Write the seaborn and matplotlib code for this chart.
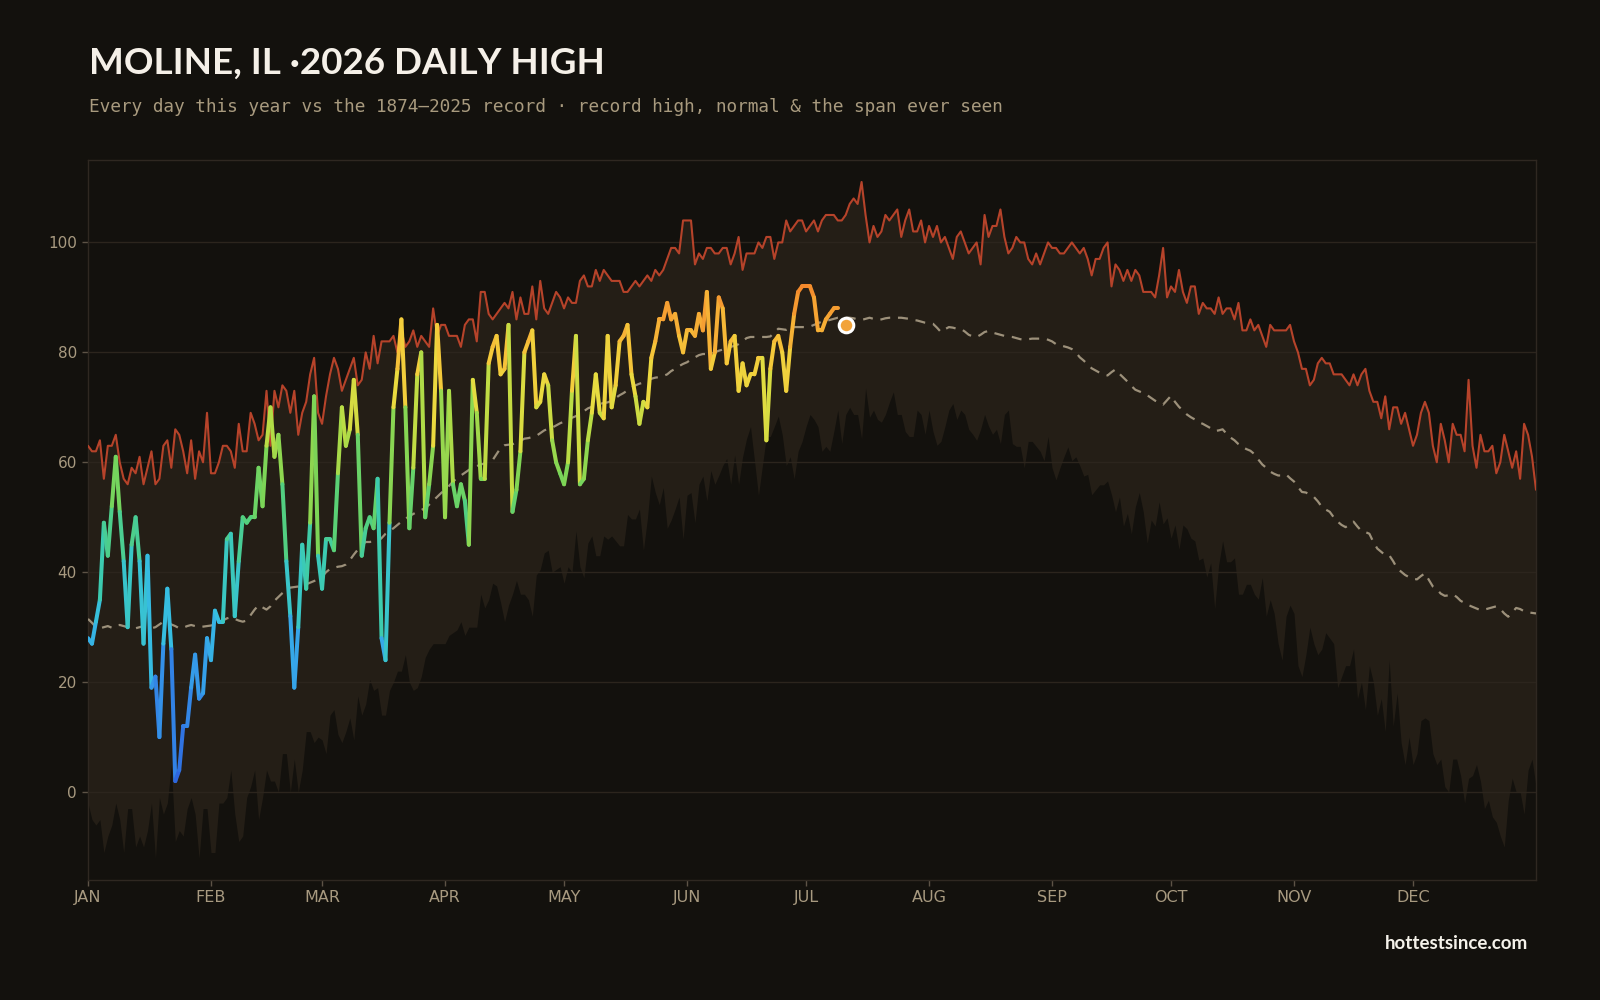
import numpy as np
import matplotlib
matplotlib.use("Agg")
import matplotlib.pyplot as plt
import seaborn as sns
from matplotlib.collections import LineCollection
from matplotlib.colors import LinearSegmentedColormap, Normalize

# ---------------- data (°F, day-of-year index 0..365) ----------------
record_high = [
    63, 62, 62, 64, 57, 63, 63, 65, 60, 57, 56, 59, 58, 61, 56, 59, 62, 56, 57, 63,
    64, 59, 66, 65, 62, 58, 64, 57, 62, 60, 69, 58, 58, 60, 63, 63, 62, 59, 67, 62,
    62, 69, 67, 64, 65, 73, 63, 73, 70, 74, 73, 69, 73, 65, 69, 71, 76, 79, 69,
    67, 72, 76, 79, 77, 73, 75, 77, 79, 74, 75, 80, 77, 83, 78, 82, 82, 82, 83, 80,
    84, 81, 82, 84, 81, 83, 82, 81, 88, 83, 85, 85, 83, 83, 83, 81, 85, 86, 86, 82,
    91, 91, 87, 86, 87, 88, 89, 88, 91, 86, 90, 87, 87, 92, 86, 93, 88, 87, 89, 91,
    90, 88, 90, 89, 89, 93, 94, 92, 92, 95, 93, 95, 94, 93, 93, 93, 91, 91, 92, 93,
    92, 93, 94, 93, 95, 94, 95, 97, 99, 99, 98, 104, 104, 104, 96, 98, 97, 99, 99, 98,
    98, 99, 99, 96, 98, 101, 95, 98, 98, 98, 100, 99, 101, 101, 97, 100, 100, 104, 102, 103,
    104,
    104, 102, 103, 104, 102, 104, 105, 105, 105, 104, 104, 105, 107, 108, 107, 111, 105, 100, 103, 101,
    102, 105, 104, 105, 106, 101, 104, 106, 102, 102, 104, 100, 103, 101, 103, 100, 101, 99, 97, 101,
    102, 100, 98, 99, 100, 96, 105, 101, 103, 103, 106, 101, 98, 99, 101, 100, 100, 97, 96, 98,
    96,
    98, 100, 99, 99, 98, 98, 99, 100, 99, 98, 99, 97, 94, 97, 97, 99, 100, 92, 96, 95,
    93, 95, 93, 95, 94, 91, 91, 91, 90, 94, 99, 90, 92, 91, 95, 91, 89, 92, 92, 87,
    89, 88, 88, 87, 90, 87, 88, 88, 86, 89, 84, 84, 86, 84, 85,
    83, 81, 85, 84, 84, 84, 84, 85, 82, 80, 77, 77, 74, 75, 78, 79, 78, 78, 76, 76,
    76, 75, 74, 76, 74, 76, 77, 73, 71, 71, 68, 72, 66, 70, 70, 67, 69, 66, 63, 65,
    69, 71, 69, 63, 60, 67, 64, 60, 67, 65, 65, 62, 75, 63, 59, 65, 62, 62, 63, 58,
    60, 65, 62, 59, 62, 57, 67, 65, 61, 55,
]

normal_high = [
    31.5, 30.8, 30.0, 29.8, 30.0, 30.2, 29.9, 30.3, 30.4, 30.2,
    30.0, 29.9, 29.8, 30.0, 30.2, 29.9, 29.8, 30.0, 30.5, 31.0,
    30.8, 30.5, 30.2, 29.8, 29.9, 30.2, 30.4, 30.2, 30.0, 30.1,
    30.2, 30.3, 30.5, 30.8, 31.2, 31.6, 31.8, 31.5, 31.2, 31.0,
    31.2, 32.2, 33.2, 34.0, 33.6, 33.2, 33.8, 34.8, 35.5, 36.2,
    36.8, 37.2, 37.3, 37.4, 37.6, 37.8, 38.1, 38.4, 38.7, 39.2,
    40.0, 40.6, 40.8, 41.0, 41.1, 41.4, 42.2, 43.2, 44.1, 45.0,
    45.5, 45.5, 45.6, 45.6, 46.2, 47.0, 47.5, 48.0, 48.6, 49.2,
    49.7, 50.2, 50.6, 51.0, 51.3, 51.7, 52.3, 53.0, 53.7, 54.4,
    55.0, 55.7, 56.5, 57.1, 57.6, 58.1, 58.6, 59.0, 59.3, 59.6,
    59.8, 60.1, 60.4, 61.5, 62.6, 63.1, 63.2, 63.3, 63.5, 63.9,
    64.3, 64.4, 64.6, 64.8, 65.3, 65.8, 66.1, 66.3, 66.7, 67.1,
    67.4, 67.8, 68.1, 68.4, 68.8, 69.3, 69.8, 70.1, 70.4, 70.6,
    70.8, 70.9, 71.2, 71.7, 72.2, 72.6, 73.1, 73.6, 74.0, 74.3,
    74.5, 74.8, 75.2, 75.4, 75.5, 75.7, 76.0, 76.6, 77.0, 77.5,
    77.9, 78.2, 78.7, 79.1, 79.5, 79.7, 79.7, 79.7, 80.0, 80.3,
    80.5, 80.8, 81.0, 81.2, 81.5, 82.0, 82.6, 82.8, 82.8, 82.8,
    82.8, 82.8, 82.9, 83.6, 84.3, 84.2, 84.1, 84.5, 84.6, 84.6,
    84.6, 84.6, 84.7, 85.0, 85.3, 85.6, 85.7, 85.9, 86.1, 86.3,
    86.3, 86.3, 86.3, 86.2, 86.0, 85.9, 86.1, 86.3, 86.1, 85.9,
    86.0, 86.2, 86.3, 86.3, 86.3, 86.3, 86.2, 86.1, 85.9, 85.8,
    85.6, 85.4, 85.3, 85.2, 84.5, 83.7, 84.2, 84.6, 84.5, 84.3,
    84.3, 83.8, 83.2, 82.9, 82.8, 83.2, 83.7, 83.9, 83.6, 83.4,
    83.2, 83.0, 82.9, 82.8, 82.6, 82.4, 82.3, 82.4, 82.5, 82.5,
    82.5, 82.5, 82.3, 82.0, 81.5, 81.3, 81.1, 80.9, 80.6, 80.0,
    79.1, 78.5, 77.8, 77.1, 76.7, 76.3, 76.0, 75.8, 76.4, 76.9,
    76.1, 75.4, 74.7, 73.9, 73.2, 72.9, 72.6, 72.2, 71.7, 71.2,
    70.9, 70.5, 71.3, 72.1, 71.0, 70.1, 69.4, 68.7, 68.2, 67.8,
    67.3, 67.0, 66.6, 66.2, 65.7, 65.8, 66.0, 65.2, 64.5, 64.0,
    63.3, 62.8, 62.4, 62.1, 61.5, 60.5, 59.6, 59.0, 58.3, 57.9,
    57.6, 57.6, 57.8, 57.1, 56.5, 55.5, 54.6, 54.5, 54.1, 53.7,
    52.9, 51.9, 51.4, 51.0, 50.0, 49.2, 48.6, 48.2, 48.7, 49.2,
    48.3, 47.5, 47.3, 47.0, 45.5, 44.3, 43.7, 43.1, 43.1, 42.0,
    40.7, 40.1, 39.5, 39.1, 38.8, 38.7, 39.3, 39.8, 38.6, 37.4,
    36.9, 36.1, 35.7, 35.8, 36.0, 35.5, 34.8, 34.4, 34.0, 33.7,
    33.4, 33.1, 33.2, 33.4, 33.6, 33.8, 33.3, 32.5, 31.9, 32.7,
    33.5, 33.3, 32.9, 32.7, 32.6, 32.5,
]

lowest_high = [
    -2, -5, -6, -5, -11, -8, -6, -2, -5, -11,
    -3, -3, -10, -8, -10, -7, -2, -12, -1, -4,
    -2, 5, -9, -7, -8, -3, -1, -4, -12, -3,
    -3, -11, -11, -2, -2, -1, 4, -4, -9, -8,
    -1, 1, 4, -5, -1, 4, 2, 2, 0, 7,
    7, 0, 6, 0, 4, 11, 11, 9, 10, 9.5,
    7, 14, 15, 10.5, 9, 11, 13.5, 9.5, 17.5, 14,
    16, 20.5, 18.5, 19, 14, 14, 18.5, 20, 22, 22,
    25, 20, 18.5, 19, 21, 24.5, 26, 27, 27, 27,
    27, 28.5, 29, 29.5, 31, 28.5, 30, 30, 30, 36,
    33.5, 35, 38, 37.5, 34.5, 31, 34, 36, 38.5, 36,
    36, 35, 32, 39.5, 40.5, 43.5, 44, 40, 40.5, 41,
    38, 41, 40, 47.5, 41, 39, 45.3, 46.6, 43, 43,
    46.6, 46, 46.6, 45.7, 44.8, 44.8, 50.5, 49.7, 49.7, 51.5,
    44, 49.7, 57.5, 54.5, 52.3, 55.4, 48, 49.5, 51.5, 53.7,
    46, 54, 54.5, 49, 56, 57.5, 53, 58.5, 56, 57.6,
    59.4, 60.7, 56, 61.3, 56, 61, 64.3, 66.5, 60.3, 54,
    59.4, 64.7, 64.7, 66.5, 68.4, 65, 59.4, 61, 57, 62,
    63.8, 66.5, 68.7, 67.8, 66.5, 62, 62.9, 62, 65.6, 69.5,
    63.4, 68.7, 70, 68.7, 68.7, 64.3, 73.5, 68.2, 69.5, 67.8,
    67.3, 68.7, 70.9, 72.8, 68.7, 68.7, 65.6, 64.7, 64.7, 69.5,
    68.7, 65.1, 69.5, 65.6, 63.1, 63.8, 66.5, 69.5, 70.7, 67.8,
    69.5, 68.7, 66, 65.1, 64, 66, 68.7, 66.6, 65.1, 66,
    63.4, 68.7, 69.5, 63.4, 62.9, 62.9, 59, 63.8, 63.8, 62.9,
    62, 60.3, 64.7, 59, 56.8, 59, 61, 62.8, 60.3, 61,
    59.4, 57.5, 57.8, 54.1, 55, 55.9, 55.9, 56.6, 54.1, 51,
    53.7, 48.4, 50.7, 47, 51.9, 54.5, 51, 45.3, 49.5, 48.4,
    52.8, 48.8, 49.9, 46.2, 48.6, 44.2, 48.6, 47.9, 46.2, 45.7,
    42.2, 42.6, 39.1, 41.7, 33.4, 41.3, 45.7, 41.9, 41.9, 42.6,
    36, 36, 37.8, 37.8, 36, 35.1,
    39, 32, 35, 32.5, 27, 24, 32, 34, 32.5, 23,
    21, 25, 30, 27, 25, 26, 29, 28, 27, 19,
    21, 23, 23, 26, 17, 20, 15, 23, 20, 14,
    17, 11, 24, 12, 18, 9, 5, 10, 5, 7,
    13, 13.5, 13, 7, 5, 6, 1, 0, 6, 6,
    3, -2, 2.5, 3, 5, 2, -3, -1.5, -4.5, -5.5,
    -8, -10, -1.5, 2.5, 0, 0, -4, 4, 6, 1,
]

high_2026 = [
    28, 27, 31, 35, 49, 43, 52, 61, 51, 42,
    30, 45, 50, 42, 27, 43, 19, 21, 10, 27,
    37, 26, 2, 4, 12, 12, 19, 25, 17, 18,
    28, 24, 33, 31, 31, 46, 47, 32, 42, 50,
    49, 50, 50, 59, 52, 63, 70, 61, 65, 56,
    42, 32, 19, 30, 45, 37, 49, 72, 43, 37,
    46, 46, 44, 58, 70, 63, 66, 75, 65, 43,
    48, 50, 48, 57, 28, 24, 49, 70, 77, 86,
    70, 48, 59, 76, 80, 50, 56, 63, 85, 73,
    50, 73, 56, 52, 56, 53, 45, 75, 69, 57,
    57, 78, 81, 83, 76, 77, 85, 51, 55, 62,
    80, 82, 84, 70, 71, 76, 74, 64, 60, 58,
    56, 60, 73, 83, 56, 57, 64, 69, 76, 69,
    68, 83, 70, 74, 82, 83, 85, 76, 72, 67,
    71, 70, 79, 82, 86, 86, 89, 86, 87, 83,
    80, 84, 84, 83, 87, 84, 91, 77, 80, 90,
    88, 78, 82, 83, 73, 78, 74, 76, 76, 79,
    79, 64, 77, 82, 83, 80, 73, 81, 87, 91,
    92, 92, 92, 90, 84, 84, 86, 87, 88, 88,
    np.nan, 85,
]

month_starts = [0, 31, 59, 90, 120, 151, 181, 212, 243, 273, 304, 334]
month_labels = ["JAN", "FEB", "MAR", "APR", "MAY", "JUN",
                "JUL", "AUG", "SEP", "OCT", "NOV", "DEC"]
y_ticks = [0, 20, 40, 60, 80, 100]

title = "MOLINE, IL \u00b72026 DAILY HIGH"
subtitle = ("Every day this year vs the 1874\u20132025 record \u00b7 "
            "record high, normal & the span ever seen")
footer = "hottestsince.com"

# ---------------- style ----------------
BG = "#13110d"
BAND = "#241e16"
GRID = "#2c251d"
RED = "#b6432a"
NORM = "#9c907a"
TICK = "#a89a80"
SPINE = "#2f2821"

sns.set_theme(style="dark", rc={
    "axes.facecolor": BG, "figure.facecolor": BG,
    "axes.edgecolor": SPINE, "axes.grid": False,
    "xtick.color": "#5d5346", "ytick.color": "#5d5346",
    "xtick.labelcolor": TICK, "ytick.labelcolor": TICK,
})
plt.rcParams["font.family"] = ["DejaVu Sans"]

rh = np.array(record_high, dtype=float)
nh = np.array(normal_high, dtype=float)
lh = np.array(lowest_high, dtype=float)
h26 = np.array(high_2026, dtype=float)
days = np.arange(len(rh))
d26 = np.arange(len(h26))

fig = plt.figure(figsize=(16, 10), dpi=100)
ax = fig.add_axes([0.055, 0.12, 0.905, 0.72])
ax.set_facecolor(BG)

# span ever seen
ax.fill_between(days, lh, rh, color=BAND, linewidth=0, zorder=1)
for yv in y_ticks:
    ax.axhline(yv, color=GRID, lw=1.0, zorder=1.5)

sns.lineplot(x=days, y=rh, ax=ax, color=RED, lw=1.5, zorder=3)
sns.lineplot(x=days, y=nh, ax=ax, color=NORM, lw=1.6, zorder=3,
             linestyle=(0, (4.5, 3.5)))

# 2026 line coloured by temperature
cmap = LinearSegmentedColormap.from_list("temps", [
    (0.00, "#2d5fdc"), (0.15, "#3385e6"), (0.25, "#36a6e9"),
    (0.32, "#36bfe0"), (0.42, "#3ccbb0"), (0.50, "#55d07a"),
    (0.58, "#7ed555"), (0.66, "#b5dc45"), (0.73, "#e9dc40"),
    (0.80, "#f5c83a"), (0.86, "#f6a934"), (0.92, "#f48a2c"),
    (1.00, "#ee6a28")])
norm = Normalize(0, 100)
segs, cols = [], []
for i in range(len(h26) - 1):
    a, b = h26[i], h26[i + 1]
    if np.isnan(a) or np.isnan(b):
        continue
    segs.append([(d26[i], a), (d26[i + 1], b)])
    cols.append(cmap(norm((a + b) / 2)))
lc = LineCollection(segs, colors=cols, linewidths=2.9, capstyle="round",
                    joinstyle="round", zorder=4)
ax.add_collection(lc)

last = np.where(~np.isnan(h26))[0][-1]
sns.scatterplot(x=[d26[last]], y=[h26[last]], ax=ax, s=110, color="#f2a33a",
                edgecolor="white", linewidth=2.2, zorder=6)

ax.set_xlim(0, 365)
ax.set_ylim(-16, 115)
ax.set_xticks(month_starts, month_labels)
ax.set_yticks(y_ticks, [str(v) for v in y_ticks])
ax.tick_params(axis="x", length=4, width=1, pad=3, labelsize=11.5,
               color="#5d5346", labelcolor=TICK, bottom=True)
ax.tick_params(axis="y", length=4, width=1, pad=4, labelsize=11,
               color="#5d5346", labelcolor=TICK, left=True)
ax.set_xlabel("")
ax.set_ylabel("")
for sp in ax.spines.values():
    sp.set_visible(True)
    sp.set_color(SPINE)
    sp.set_linewidth(1.0)

fig.text(0.0555, 0.9265, title, fontsize=26.5, fontweight="bold",
         family=["Lato", "DejaVu Sans"], color="#f5f0e8", va="baseline")
fig.text(0.0555, 0.888, subtitle, fontsize=12.8,
         family=["DejaVu Sans Mono"], color="#a89a7e", va="baseline")
fig.text(0.955, 0.051, footer, fontsize=13.5, fontweight="bold",
         family=["Lato", "DejaVu Sans"], color="#f5f2ea", ha="right",
         va="baseline")

fig.savefig("out.png", dpi=100, facecolor=BG)
